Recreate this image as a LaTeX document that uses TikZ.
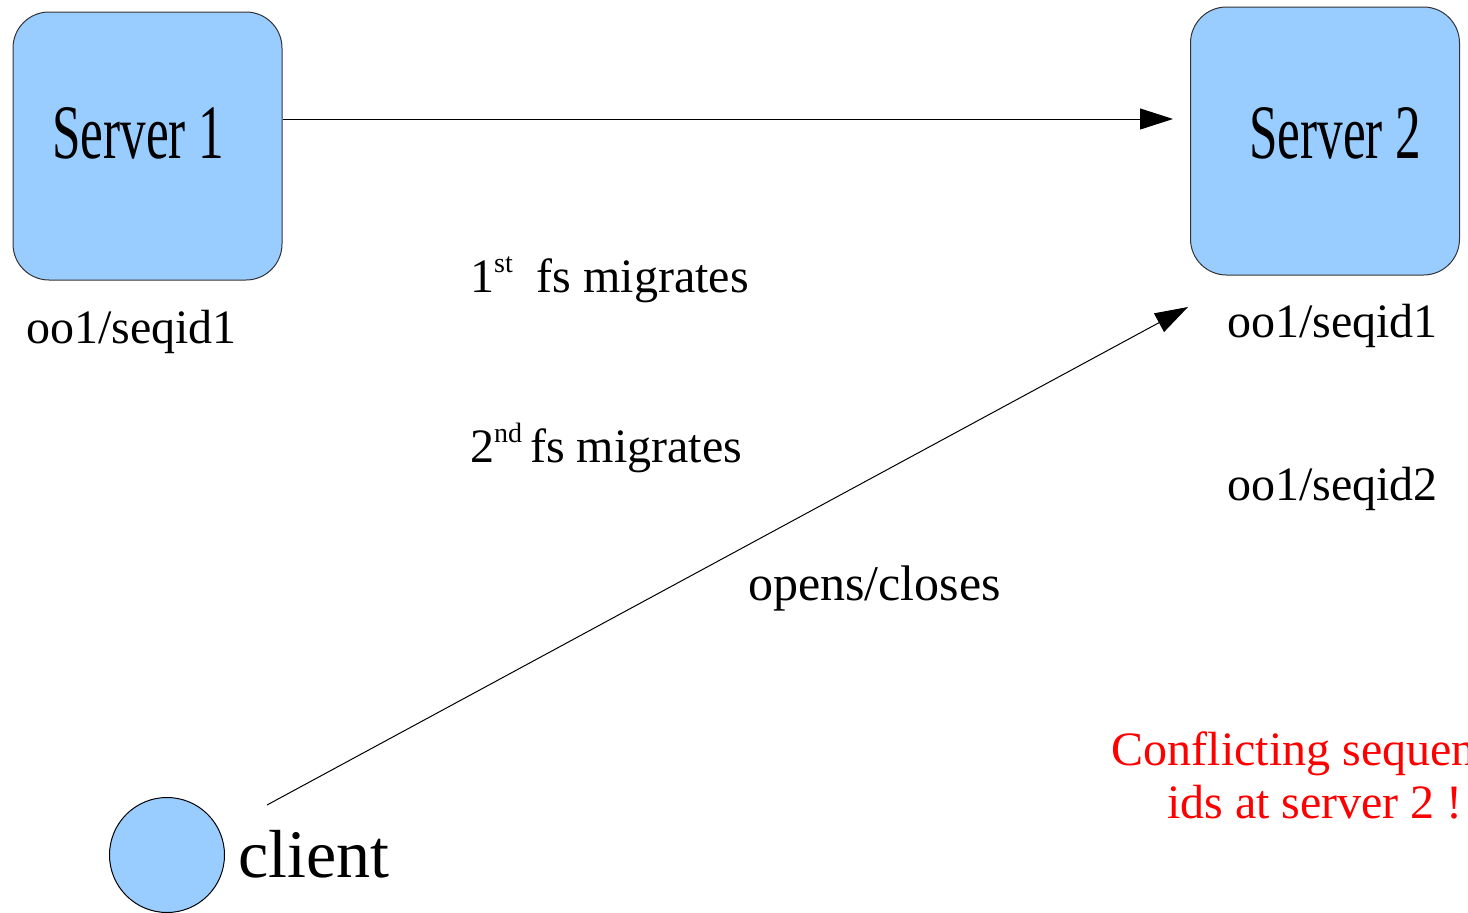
\documentclass[tikz,border=0pt]{standalone}
\usepackage{fontspec}
\setmainfont{Liberation Serif}
\newfontfamily\narrowserif[FakeStretch=0.665]{Liberation Serif}
\usetikzlibrary{arrows.meta}
\definecolor{boxblue}{HTML}{99CCFF}
\definecolor{edgegray}{HTML}{333333}
\tikzset{
  server/.style={draw=edgegray, line width=1pt, fill=boxblue, rounded corners=36pt,
    minimum width=269pt, minimum height=268pt, inner sep=0pt},
  servertext/.style={anchor=base west, inner sep=0pt, font=\narrowserif\fontsize{77}{77}\selectfont},
  plain/.style={anchor=base west, inner sep=0pt, font=\fontsize{48}{53}\selectfont},
  flow/.style={line width=1pt, -{Triangle[length=33pt,width=21pt]}},
}
\newcommand{\supscr}[1]{\raisebox{20pt}{\fontsize{28}{28}\selectfont #1}}
\begin{document}
\begin{tikzpicture}[x=1pt, y=-1pt]
  \useasboundingbox (0,0) rectangle (1468,913);

  % servers
  \node[server] (s1) at (147.5,146) {};
  \node[servertext] (s1t) at (52,158) {Server 1};
  \node[server] (s2) at (1325,141) {};
  \node[servertext] (s2t) at (1249,158) {Server 2};

  % client
  \node[draw=black, line width=1pt, fill=boxblue, circle, minimum size=115pt, inner sep=0pt] (cl) at (167,855) {};
  \node[anchor=base west, inner sep=0pt, font=\fontsize{68}{68}\selectfont] (clt) at (238,877) {client};

  % state labels
  \node[plain] (st1) at (26,343) {oo1/seqid1};
  \node[plain] (st2) at (1227,337) {oo1/seqid1};
  \node[plain] (st3) at (1227,500) {oo1/seqid2};

  % migration and operation labels
  \node[plain] (m1) at (470,292) {1\supscr{st}\hspace{24pt}fs migrates};
  \node[plain] (m2) at (470,462) {2\supscr{nd}\hspace{8pt}fs migrates};
  \node[plain, font=\fontsize{50}{53}\selectfont] (oc) at (748,600) {opens/closes};

  % warning
  \node[anchor=base, inner sep=0pt, align=center, text=red,
        font=\fontsize{48}{53}\selectfont] (warn) at (1315,818)
        {Conflicting sequence\\ids at server 2 !};

  % connectors
  \coordinate (a1) at (1173,119);
  \coordinate (c0) at (267,805);
  \coordinate (a2) at (1188,307);
  \draw[flow] (s1.east |- a1) -- (a1);
  \draw[flow] (c0) -- (a2);
\end{tikzpicture}
\end{document}
